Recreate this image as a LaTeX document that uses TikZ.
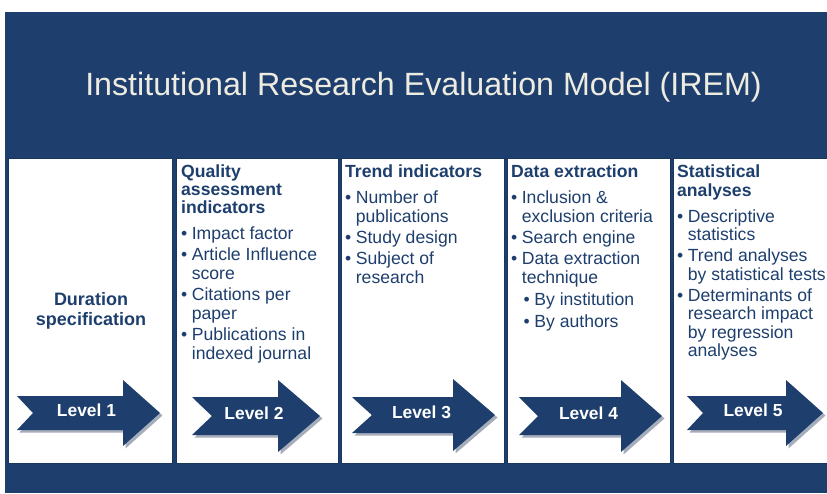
\documentclass[tikz,border=0pt]{standalone}
\usepackage{fontspec}
\setmainfont{Liberation Sans}
\usetikzlibrary{calc}
\definecolor{irblue}{RGB}{30,63,110}
\definecolor{irtitle}{RGB}{238,236,225}
\definecolor{irshadow}{RGB}{165,172,186}
\tikzset{
  panel/.style={fill=white, draw=irblue!85!black, line width=0.8pt, anchor=north west, inner sep=0pt},
  coltext/.style={text=irblue, font=\fontsize{17.6}{19}\selectfont, inner sep=0pt, anchor=base west},
  levellabel/.style={text=white, font=\bfseries\fontsize{17.4}{19}\selectfont, inner sep=0pt},
}
\newcommand\levelarrow[9]{%
  \fill[irshadow, shift={(2.5,2.5)}] ({#2},{#6-#7}) -- ({#4},{#6-#7}) -- ({#4},{#6-#8}) -- ({#5},{#6}) -- ({#4},{#6+#8}) -- ({#4},{#6+#7}) -- ({#2},{#6+#7}) -- ({#3},{#6}) -- cycle;
  \fill[irblue] ({#2},{#6-#7}) -- ({#4},{#6-#7}) -- ({#4},{#6-#8}) -- ({#5},{#6}) -- ({#4},{#6+#8}) -- ({#4},{#6+#7}) -- ({#2},{#6+#7}) -- ({#3},{#6}) -- cycle;
  \node[levellabel] (#1) at ({(#2+#5)/2-2},{#6-3}) {#9};
}
\newcommand\bul{\textbullet}
\begin{document}
\begin{tikzpicture}[x=1pt,y=-1pt]
\useasboundingbox (0,0) rectangle (827,493);
\fill[white] (0,0) rectangle (827,493);
\fill[irblue] (5,12) rectangle (827,493);

\node[text=irtitle, font=\fontsize{32.2}{38}\selectfont, inner sep=0pt, anchor=base] (title) at (423.5,95) {Institutional Research Evaluation Model (IREM)};

\node[panel, minimum width=164pt, minimum height=305pt] (p1) at (8,158) {};
\node[panel, minimum width=162pt, minimum height=305pt] (p2) at (176,158) {};
\node[panel, minimum width=163pt, minimum height=305pt] (p3) at (341,158) {};
\node[panel, minimum width=163pt, minimum height=305pt] (p4) at (507,158) {};
\node[panel, minimum width=160pt, minimum height=305pt] (p5) at (673,158) {};

\node[text=irblue, font=\bfseries\fontsize{18}{20}\selectfont, align=center, inner sep=0pt] (t1) at (91,311) {Duration\\specification};

\node[coltext] (t2) at (181,177) {\begin{tabular}[t]{@{}l@{\hspace{4.5pt}}l@{}}
\multicolumn{2}{@{}l@{}}{\bfseries Quality}\\[-1pt]
\multicolumn{2}{@{}l@{}}{\bfseries assessment}\\[-1pt]
\multicolumn{2}{@{}l@{}}{\bfseries indicators}\\[7pt]
\bul & Impact factor\\[2pt]
\bul & Article Influence\\
 & score\\[2pt]
\bul & Citations per\\
 & paper\\[2pt]
\bul & Publications in\\
 & indexed journal
\end{tabular}};

\node[coltext] (t3) at (345,177) {\begin{tabular}[t]{@{}l@{\hspace{4.5pt}}l@{}}
\multicolumn{2}{@{}l@{}}{\bfseries Trend indicators}\\[7pt]
\bul & Number of\\
 & publications\\[2pt]
\bul & Study design\\[2pt]
\bul & Subject of\\
 & research
\end{tabular}};

\node[coltext] (t4) at (511,177) {\begin{tabular}[t]{@{}l@{\hspace{4.5pt}}l@{}}
\multicolumn{2}{@{}l@{}}{\bfseries Data extraction}\\[7pt]
\bul & Inclusion \&\\
 & exclusion criteria\\[2pt]
\bul & Search engine\\[2pt]
\bul & Data extraction\\
 & technique\\[3pt]
\multicolumn{2}{@{}l@{}}{\hspace{12.5pt}\bul\hspace{4.5pt}By institution}\\[3pt]
\multicolumn{2}{@{}l@{}}{\hspace{12.5pt}\bul\hspace{4.5pt}By authors}
\end{tabular}};

\node[coltext] (t5) at (677,177) {\begin{tabular}[t]{@{}l@{\hspace{4.5pt}}l@{}}
\multicolumn{2}{@{}l@{}}{\bfseries Statistical}\\
\multicolumn{2}{@{}l@{}}{\bfseries analyses}\\[7pt]
\bul & Descriptive\\[-1pt]
 & statistics\\[2pt]
\bul & Trend analyses\\
 & by statistical tests\\[2pt]
\bul & Determinants of\\[-1pt]
 & research impact\\
 & by regression\\[-1pt]
 & analyses
\end{tabular}};

\levelarrow{l1}{17}{33}{123}{160}{413}{17}{33}{Level 1}
\levelarrow{l2}{192}{212}{278}{320}{416}{19}{36}{Level 2}
\levelarrow{l3}{352}{372}{453}{495}{415}{18}{36}{Level 3}
\levelarrow{l4}{519}{538}{621}{662}{416}{19}{36}{Level 4}
\levelarrow{l5}{687}{703}{786}{823}{413}{17}{33}{Level 5}
\end{tikzpicture}
\end{document}
